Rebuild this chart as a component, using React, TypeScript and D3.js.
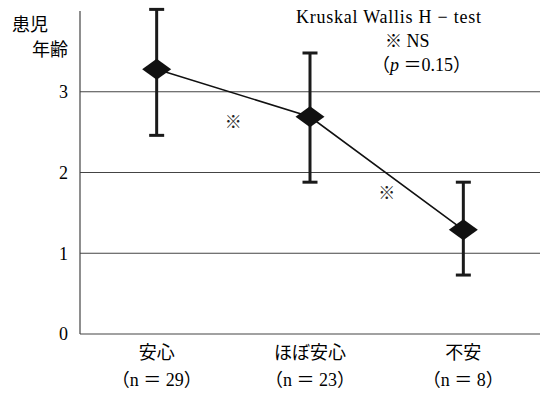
import { useRef, useEffect } from 'react';
import * as d3 from 'd3';

const categories = ['安心', 'ほぼ安心', '不安'];
const nLabels = ['（n ＝ 29）', '（n ＝ 23）', '（n ＝ 8）'];
const means = [3.28, 2.69, 1.29];
const upper = [4.02, 3.48, 1.88];
const lower = [2.46, 1.88, 0.73];
const yTicks = [0, 1, 2, 3];

const FONT = "'Times New Roman', 'Liberation Serif', 'DejaVu Serif', 'Noto Sans CJK JP', serif";
const MARK_FONT = "'Noto Sans CJK JP', 'DejaVu Sans', sans-serif";

const App = () => {
  const ref = useRef<SVGSVGElement>(null);

  useEffect(() => {
    const svg = d3.select(ref.current);
    svg.selectAll('*').remove();

    const left = 80, right = 540, top = 11, bottom = 334;

    const x = d3.scaleBand().domain(categories).range([left, right]);
    const y = d3.scaleLinear().domain([0, 4]).range([bottom, top]);
    const cx = (c: string) => (x(c) as number) + x.bandwidth() / 2;

    // grid lines
    svg.append('g')
      .selectAll('line')
      .data(yTicks.filter(d => d > 0))
      .enter().append('line')
      .attr('x1', left).attr('x2', right)
      .attr('y1', d => y(d)).attr('y2', d => y(d))
      .attr('stroke', '#444').attr('stroke-width', 1.2);

    // axes
    svg.append('line')
      .attr('x1', left).attr('x2', left)
      .attr('y1', top).attr('y2', bottom)
      .attr('stroke', '#444').attr('stroke-width', 1.2);
    svg.append('line')
      .attr('x1', left).attr('x2', right)
      .attr('y1', bottom).attr('y2', bottom)
      .attr('stroke', '#444').attr('stroke-width', 1.2);

    // y tick labels
    svg.append('g')
      .selectAll('text')
      .data(yTicks)
      .enter().append('text')
      .attr('x', 68).attr('y', d => y(d))
      .attr('dy', '0.35em')
      .attr('text-anchor', 'end')
      .style('font-family', FONT).style('font-size', '18px')
      .text(d => d);

    // y title
    svg.append('text').attr('x', 12).attr('y', 31)
      .style('font-family', FONT).style('font-size', '18px').text('患児');
    svg.append('text').attr('x', 32).attr('y', 56)
      .style('font-family', FONT).style('font-size', '18px').text('年齢');

    // category labels
    const xl = svg.append('g');
    categories.forEach((c, i) => {
      xl.append('text').attr('x', cx(c)).attr('y', 359)
        .attr('text-anchor', 'middle')
        .style('font-family', FONT).style('font-size', '18px').text(c);
      xl.append('text').attr('x', cx(c)).attr('y', 386)
        .attr('text-anchor', 'middle')
        .style('font-family', FONT).style('font-size', '18px').text(nLabels[i]);
    });

    // connecting line
    const line = d3.line<number>()
      .x((_, i) => cx(categories[i]))
      .y(d => y(d));
    svg.append('path')
      .attr('d', line(means))
      .attr('fill', 'none')
      .attr('stroke', '#111').attr('stroke-width', 1.6);

    // error bars
    const eb = svg.append('g').attr('stroke', '#1a1a1a').attr('stroke-width', 3);
    categories.forEach((c, i) => {
      eb.append('line').attr('x1', cx(c)).attr('x2', cx(c))
        .attr('y1', y(upper[i])).attr('y2', y(lower[i]));
      [upper[i], lower[i]].forEach(v => {
        eb.append('line').attr('x1', cx(c) - 7.5).attr('x2', cx(c) + 7.5)
          .attr('y1', y(v)).attr('y2', y(v));
      });
    });

    // diamond markers
    svg.append('g')
      .selectAll('path')
      .data(means)
      .enter().append('path')
      .attr('d', (d, i) => {
        const px = cx(categories[i]), py = y(d);
        return `M${px - 14.5},${py}L${px},${py - 10.5}L${px + 14.5},${py}L${px},${py + 10.5}Z`;
      })
      .attr('fill', '#111');

    // significance marks
    const marks = [
      [(cx(categories[0]) + cx(categories[1])) / 2, 2.63],
      [(cx(categories[1]) + cx(categories[2])) / 2, 1.74],
    ];
    svg.append('g')
      .selectAll('text')
      .data(marks)
      .enter().append('text')
      .attr('x', d => d[0]).attr('y', d => y(d[1]))
      .attr('dy', '0.35em')
      .attr('text-anchor', 'middle')
      .attr('fill', '#222')
      .style('font-family', MARK_FONT).style('font-size', '17px')
      .text('\u203B\uFE0E');

    // test annotation
    const ann = svg.append('g').style('font-family', FONT).style('font-size', '18px');
    ann.append('text').attr('x', 296).attr('y', 23).attr('textLength', 185).text('Kruskal Wallis H − test');
    const ns = ann.append('text').attr('x', 385).attr('y', 47);
    ns.append('tspan').style('font-family', MARK_FONT).style('font-size', '17px').text('\u203B\uFE0E');
    ns.append('tspan').text(' NS');
    const pt = ann.append('text').attr('x', 372).attr('y', 71);
    pt.append('tspan').text('（');
    pt.append('tspan').attr('font-style', 'italic').text('p');
    pt.append('tspan').text(' ＝0.15）');
  }, []);

  return (
    <svg ref={ref} width={544} height={393}
      style={{ position: 'absolute', left: 0, top: 0, background: '#fff' }} />
  );
};

export default App;
